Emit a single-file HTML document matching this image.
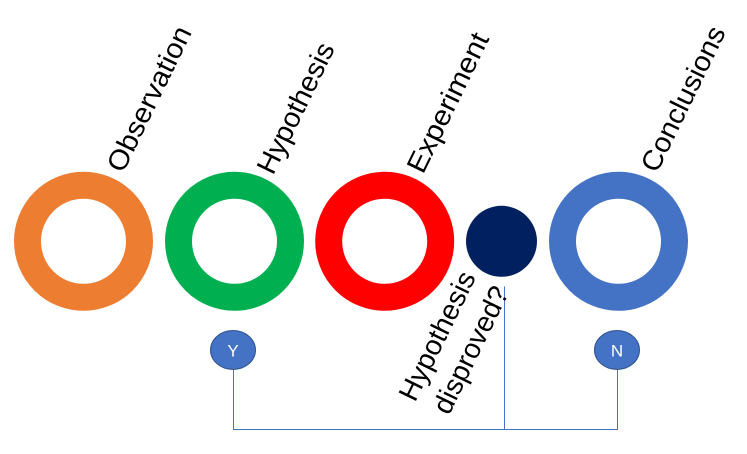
<!DOCTYPE html>
<html><head><meta charset="utf-8"><style>html,body{margin:0;padding:0;background:#fff}svg{display:block}text{font-family:"Liberation Sans",sans-serif;fill:#000}</style></head><body>
<svg width="747" height="454" viewBox="0 0 747 454" xmlns="http://www.w3.org/2000/svg">
<rect width="747" height="454" fill="#fff"/>
<circle cx="83.5" cy="241.3" r="56" fill="none" stroke="#ED7D31" stroke-width="27"/>
<circle cx="234.5" cy="241.3" r="56" fill="none" stroke="#00B050" stroke-width="27"/>
<circle cx="384.7" cy="241.3" r="56" fill="none" stroke="#FF0000" stroke-width="27"/>
<circle cx="501.5" cy="241.3" r="35.5" fill="#002060"/>
<circle cx="618.5" cy="241.3" r="56" fill="none" stroke="#4472C4" stroke-width="27"/>
<path d="M233.5 370V429.5H617.5V370M504.5 286.5V429.5" fill="none" stroke="#4472C4" stroke-width="1"/>
<ellipse cx="233" cy="350" rx="22.5" ry="19.5" fill="#4472C4" stroke="#2F528F" stroke-width="1"/>
<ellipse cx="617" cy="350" rx="22.5" ry="19.5" fill="#4472C4" stroke="#2F528F" stroke-width="1"/>
<text x="233" y="356.5" font-size="17" text-anchor="middle" style="fill:#fff">Y</text>
<text x="617" y="356.5" font-size="17" text-anchor="middle" style="fill:#fff">N</text>
<g font-size="28">
<text transform="translate(123 174) rotate(-64)" textLength="158" lengthAdjust="spacingAndGlyphs">Observation</text>
<text transform="translate(273 176) rotate(-64)" textLength="142" lengthAdjust="spacingAndGlyphs">Hypothesis</text>
<text transform="translate(423 175) rotate(-64)" textLength="152" lengthAdjust="spacingAndGlyphs">Experiment</text>
<text transform="translate(657 174) rotate(-64)" textLength="158" lengthAdjust="spacingAndGlyphs">Conclusions</text>
<text transform="translate(415 403) rotate(-64)" textLength="140" lengthAdjust="spacingAndGlyphs">Hypothesis</text>
<text transform="translate(449 416) rotate(-64)" textLength="138" lengthAdjust="spacingAndGlyphs">disproved?</text>
</g>
</svg>
</body></html>
